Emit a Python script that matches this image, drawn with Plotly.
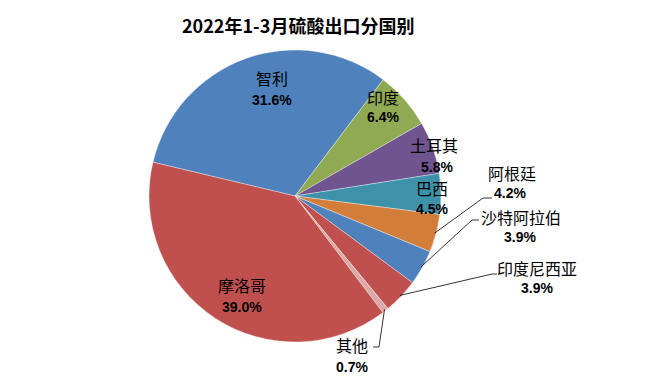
import math
import plotly.graph_objects as go

# ---- data ----
countries = ["智利", "印度", "土耳其", "巴西", "阿根廷", "沙特阿拉伯", "印度尼西亚", "其他", "摩洛哥"]
shares = [31.6, 6.4, 5.8, 4.5, 4.2, 3.9, 3.9, 0.7, 39.0]
pct_labels = ["31.6%", "6.4%", "5.8%", "4.5%", "4.2%", "3.9%", "3.9%", "0.7%", "39.0%"]
title_text = "2022年1-3月硫酸出口分国别"

# ---- style / layout ----
W, H = 649, 378
colors = ["#4F81BD", "#8FAA52", "#6F548F", "#3D91A8", "#D27E3A",
          "#4F81BD", "#C0504D", "#DDA9A7", "#C0504D"]
CX, CY, R = 295, 196, 146          # pie centre and radius in pixels
ROT = 283.4                          # angle (clockwise from 12 o'clock) where first slice starts

# label placement (pixels): name centre, percent centre, elbow of leader (or None)
label_pos = {
    "智利": ((272, 78), (272, 100), None),
    "印度": ((383, 97), (383, 117), None),
    "土耳其": ((434, 145), (437, 167), None),
    "巴西": ((432, 188), (432, 209), None),
    "摩洛哥": ((242, 285), (242, 307), None),
    "阿根廷": ((512, 173), (510, 193), ((483, 198), (492, 198))),
    "沙特阿拉伯": ((521, 217), (520, 237), ((472, 220), (479, 220))),
    "印度尼西亚": ((537, 268), (537, 288), ((492, 274), (497, 274))),
    "其他": ((352, 345), (352, 367), ((379, 347), (373, 347))),
}


def px(x):
    return x / W


def py(y):
    return 1 - y / H


fig = go.Figure(go.Pie(
    labels=countries,
    values=shares,
    sort=False,
    direction="clockwise",
    rotation=ROT,
    textinfo="none",
    hoverinfo="label+percent",
    marker=dict(colors=colors, line=dict(color="rgba(255,255,255,0.6)", width=0.6)),
    domain=dict(x=[px(CX - R), px(CX + R)], y=[py(CY + R), py(CY - R)]),
    showlegend=False,
))

annotations = []
shapes = []
total = sum(shares)
cum = 0.0
for name, val, pct in zip(countries, shares, pct_labels):
    mid = ROT + (cum + val / 2) / total * 360
    cum += val
    (nx, ny), (qx, qy), leader = label_pos[name]
    annotations.append(dict(x=px(nx), y=py(ny), xref="paper", yref="paper", text=name,
                            showarrow=False, xanchor="center", yanchor="middle",
                            font=dict(family="Noto Sans CJK SC", size=16, color="#000000")))
    annotations.append(dict(x=px(qx), y=py(qy), xref="paper", yref="paper", text="<b>" + pct + "</b>",
                            showarrow=False, xanchor="center", yanchor="middle",
                            font=dict(family="Liberation Sans, Arial", size=14, color="#000000")))
    if leader:
        a = math.radians(mid)
        sx = CX + R * 0.99 * math.sin(a)
        sy = CY - R * 0.99 * math.cos(a)
        (ex, ey), (fx, fy) = leader
        path = f"M {px(sx)} {py(sy)} L {px(ex)} {py(ey)} L {px(fx)} {py(fy)}"
        shapes.append(dict(type="path", xref="paper", yref="paper", path=path,
                           line=dict(color="#000000", width=0.8)))

annotations.append(dict(x=px(298), y=py(25), xref="paper", yref="paper",
                        text="<b>" + title_text + "</b>", showarrow=False,
                        xanchor="center", yanchor="middle",
                        font=dict(family="Noto Sans CJK SC", size=18, color="#000000")))

fig.update_layout(
    width=W, height=H,
    margin=dict(l=0, r=0, t=0, b=0),
    paper_bgcolor="#FFFFFF",
    plot_bgcolor="#FFFFFF",
    annotations=annotations,
    shapes=shapes,
)

fig.write_html("out.html", config={"displayModeBar": False},
               post_script="document.body.style.margin='0';document.body.style.overflow='hidden';")
